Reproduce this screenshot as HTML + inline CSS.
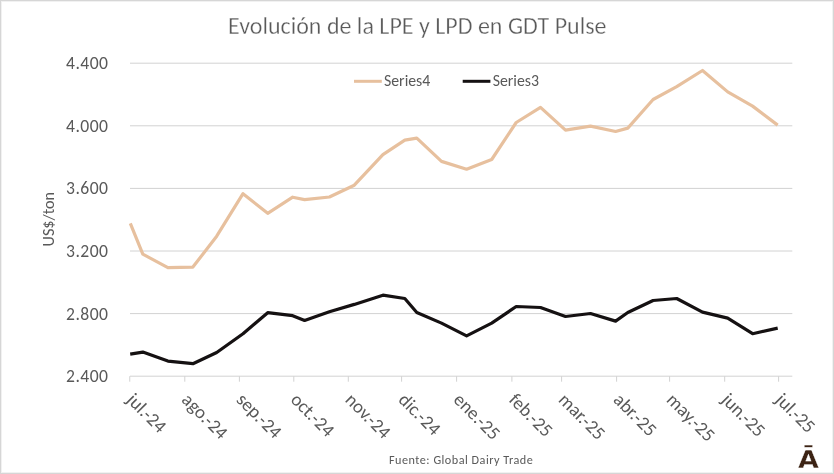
<!DOCTYPE html>
<html><head><meta charset="utf-8"><style>
html,body{margin:0;padding:0;background:#fff;}
body{width:834px;height:474px;overflow:hidden;position:relative;}
svg{position:absolute;left:0;top:0;will-change:transform;}
text{font-family:Carlito, 'Liberation Sans', sans-serif;}
</style></head><body>
<svg width="834" height="474" viewBox="0 0 834 474">
<rect x="0" y="0" width="834" height="474" fill="#fff"/>
<rect x="1.5" y="1.5" width="831" height="471" fill="none" stroke="#f1f1f1" stroke-width="1"/>
<rect x="0.5" y="0.5" width="833" height="473" fill="none" stroke="#d6d6d6" stroke-width="1"/>
<g stroke="#d2d2d2" stroke-width="1">
<line x1="130" y1="63.2" x2="792.3" y2="63.2"/>
<line x1="130" y1="125.8" x2="792.3" y2="125.8"/>
<line x1="130" y1="188.4" x2="792.3" y2="188.4"/>
<line x1="130" y1="251.0" x2="792.3" y2="251.0"/>
<line x1="130" y1="313.6" x2="792.3" y2="313.6"/>
<line x1="130" y1="376.2" x2="792.3" y2="376.2"/>
<line x1="129.75" y1="376.2" x2="129.75" y2="381.7"/>
<line x1="184.8" y1="376.2" x2="184.8" y2="381.7"/>
<line x1="239.4" y1="376.2" x2="239.4" y2="381.7"/>
<line x1="293.8" y1="376.2" x2="293.8" y2="381.7"/>
<line x1="348.3" y1="376.2" x2="348.3" y2="381.7"/>
<line x1="401.6" y1="376.2" x2="401.6" y2="381.7"/>
<line x1="456.6" y1="376.2" x2="456.6" y2="381.7"/>
<line x1="511.9" y1="376.2" x2="511.9" y2="381.7"/>
<line x1="561.6" y1="376.2" x2="561.6" y2="381.7"/>
<line x1="616.6" y1="376.2" x2="616.6" y2="381.7"/>
<line x1="669.6" y1="376.2" x2="669.6" y2="381.7"/>
<line x1="724.7" y1="376.2" x2="724.7" y2="381.7"/>
<line x1="778.6" y1="376.2" x2="778.6" y2="381.7"/>
</g>
<text x="228" y="33.6" font-size="24" fill="#595959" style="stroke:#fff;stroke-width:0.3px">Evolución de la LPE y LPD en GDT Pulse</text>
<g font-size="17.6" fill="#595959" text-anchor="end" letter-spacing="0.45">
<text x="108.45" y="69.10">4.400</text>
<text x="108.45" y="131.70">4.000</text>
<text x="108.45" y="194.30">3.600</text>
<text x="108.45" y="256.90">3.200</text>
<text x="108.45" y="319.50">2.800</text>
<text x="108.45" y="382.10">2.400</text>
</g>
<g font-size="18.7" fill="#595959">
<text transform="translate(125.75,400.80) rotate(45)">jul.-24</text>
<text transform="translate(180.80,400.80) rotate(45)">ago.-24</text>
<text transform="translate(235.40,400.80) rotate(45)">sep.-24</text>
<text transform="translate(289.80,400.80) rotate(45)">oct.-24</text>
<text transform="translate(344.30,400.80) rotate(45)">nov.-24</text>
<text transform="translate(397.60,400.80) rotate(45)">dic.-24</text>
<text transform="translate(452.60,400.80) rotate(45)">ene.-25</text>
<text transform="translate(507.90,400.80) rotate(45)">feb.-25</text>
<text transform="translate(557.60,400.80) rotate(45)">mar.-25</text>
<text transform="translate(612.60,400.80) rotate(45)">abr.-25</text>
<text transform="translate(665.60,400.80) rotate(45)">may.-25</text>
<text transform="translate(720.70,400.80) rotate(45)">jun.-25</text>
<text transform="translate(774.60,400.80) rotate(45)">jul.-25</text>
</g>
<text transform="translate(54.3,219.2) rotate(-90)" font-size="16.2" fill="#595959" text-anchor="middle">US$/ton</text>
<line x1="354" y1="81.3" x2="381.8" y2="81.3" stroke="#e7c09e" stroke-width="3"/>
<text x="384" y="86.1" font-size="15.8" fill="#595959">Series4</text>
<line x1="462.7" y1="81.3" x2="490.4" y2="81.3" stroke="#151112" stroke-width="3"/>
<text x="492.7" y="86.1" font-size="15.8" fill="#595959">Series3</text>
<polyline points="130.3,223.3 142.8,254.2 167.9,267.7 192.9,267.1 216.7,236.2 243,193.7 267.7,213.3 292.7,197.2 304.6,199.6 329.4,197 354.3,185.2 382.9,154.7 404.8,140.1 416.8,138.1 441.5,161.4 466.6,169.2 491.7,159.5 516.2,122.5 540.5,107.4 565.5,130.1 590.5,126.1 615.6,131.5 627.8,128.1 653.1,99.5 676.7,86.7 702.5,70.5 727.7,91.9 752.6,106.1 777.7,125.1" fill="none" stroke="#e7c09e" stroke-width="3.2" stroke-linejoin="round" stroke-linecap="butt"/>
<polyline points="130.2,354.1 142.8,352.1 167.9,361.1 192.9,363.7 216.7,352.5 243,333.7 267.7,312.7 292.7,315.7 304.6,320.5 329.4,311.7 354.3,304.4 382.9,295.2 404.8,298.5 416.8,312.5 441.5,323.1 466.6,335.9 491.7,323.1 516.2,306.5 540.5,307.5 565.5,316.5 590.5,313.5 615.6,321.1 627.8,312.5 653.1,300.5 676.7,298.5 702.5,312.1 727.7,318.1 752.6,333.7 777.7,328.1" fill="none" stroke="#151112" stroke-width="3.2" stroke-linejoin="round" stroke-linecap="butt"/>
<text x="389" y="464.2" font-size="12.2" fill="#595959" letter-spacing="0.5">Fuente: Global Dairy Trade</text>
<text transform="translate(808.4,468) scale(1.08,1)" font-size="25" font-weight="bold" fill="#3c2314" text-anchor="middle" style="stroke:#fff;stroke-width:0.3px;font-family:'DejaVu Sans', sans-serif">Ā</text>
</svg>
</body></html>
